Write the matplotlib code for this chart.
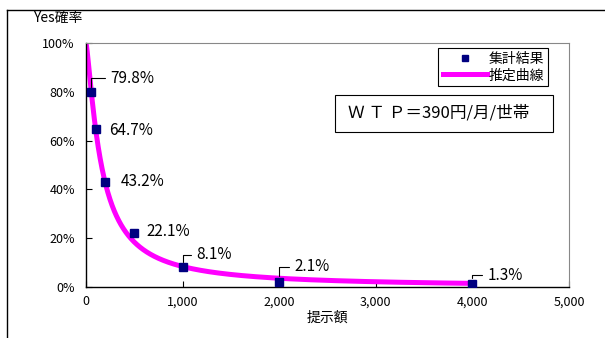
import matplotlib
matplotlib.use("Agg")
import matplotlib.pyplot as plt
import numpy as np
from matplotlib.lines import Line2D
from matplotlib.patches import Rectangle

plt.rcParams['font.family'] = ['Noto Sans CJK JP', 'DejaVu Sans']

# survey results: bid amount (yen) and share of "yes" answers (%)
bids = [50, 100, 200, 500, 1000, 2000, 4000]
yes_rate = [79.8, 64.7, 43.2, 22.1, 8.1, 2.1, 1.3]

# fitted logit model: logit(P) = a + b * ln(bid)
coef_a = 6.59
coef_b = -1.30

# label offsets in points (dx, dy) and whether a leader line is drawn
label_offsets = [(14, 10, True), (10, -1, False), (11, 0, False), (9, 1, False),
                 (10, 9, True), (11, 11, True), (11, 6, True)]

x_ticks = [0, 1000, 2000, 3000, 4000, 5000]
y_ticks = [0, 20, 40, 60, 80, 100]

fig = plt.figure(figsize=(6.05, 3.38), dpi=100)
ax = fig.add_axes([86/605, 51/338, 483/605, 244/338])

# estimated curve
xs = np.linspace(0.5, 4000, 2000)
curve = 100 / (1 + np.exp(-(coef_a + coef_b * np.log(xs))))
ax.plot(xs, curve, color='#FF00FF', lw=3.6, solid_capstyle='butt', label='推定曲線', zorder=2)
ax.plot(bids, yes_rate, 's', color='#000080', ms=6, ls='none', label='集計結果', zorder=3)

for x, y, (dx, dy, leader) in zip(bids, yes_rate, label_offsets):
    props = None
    if leader:
        props = dict(arrowstyle='-', color='black', lw=0.8, relpos=(0, 0.5),
                     connectionstyle='angle,angleA=0,angleB=90,rad=0',
                     shrinkA=2, shrinkB=4)
    ax.annotate(f'{y:.1f}%', xy=(x, y), xytext=(dx, dy), textcoords='offset points',
                ha='left', va='center', fontsize=11, arrowprops=props, zorder=4)

ax.set_xlim(0, 5000)
ax.set_ylim(0, 100)
ax.set_xticks(x_ticks)
ax.set_xticklabels([f'{v:,}' for v in x_ticks])
ax.set_yticks(y_ticks)
ax.set_yticklabels([f'{v}%' for v in y_ticks])
ax.tick_params(direction='in', length=4, labelsize=9, width=0.8)
ax.tick_params(axis='x', pad=6)
ax.tick_params(axis='y', pad=8)
ax.spines['top'].set_color('#888888')
ax.spines['right'].set_color('#888888')
for s in ['left', 'bottom']:
    ax.spines[s].set_linewidth(1.0)
ax.set_xlabel('提示額', fontsize=10, labelpad=2)

fig.text(33/605, 1 - 18/338, 'Yes確率', fontsize=10, ha='left', va='center')

handles = [Line2D([], [], marker='s', color='#000080', ls='none', ms=5),
           Line2D([], [], color='#FF00FF', lw=3.6)]
leg = ax.legend(handles, ['集計結果', '推定曲線'], loc='upper right',
                bbox_to_anchor=((548 - 86)/483, (287 - 48)/244),
                fontsize=10, frameon=True, fancybox=False, edgecolor='black',
                framealpha=1, borderpad=0.3, handlelength=3.2, handletextpad=0.1,
                labelspacing=0.15, borderaxespad=0)
leg.get_frame().set_linewidth(0.8)

# WTP box
ax.add_patch(Rectangle(((335 - 86)/483, (287 - 132)/244), 218/483, 37/244,
                       transform=ax.transAxes, fill=False, ec='black', lw=0.8))
ax.text((348 - 86)/483, (287 - 113)/244, 'Ｗ Ｔ Ｐ＝390円/月/世帯', transform=ax.transAxes,
        ha='left', va='center', fontsize=12)

# outer frame edges
fig.add_artist(Line2D([7/605, 7/605], [0, 1 - 10/338], color='black', lw=1.0))
fig.add_artist(Line2D([7/605, 1], [1 - 10/338, 1 - 10/338], color='black', lw=1.0))

fig.savefig('out.png', dpi=100)
